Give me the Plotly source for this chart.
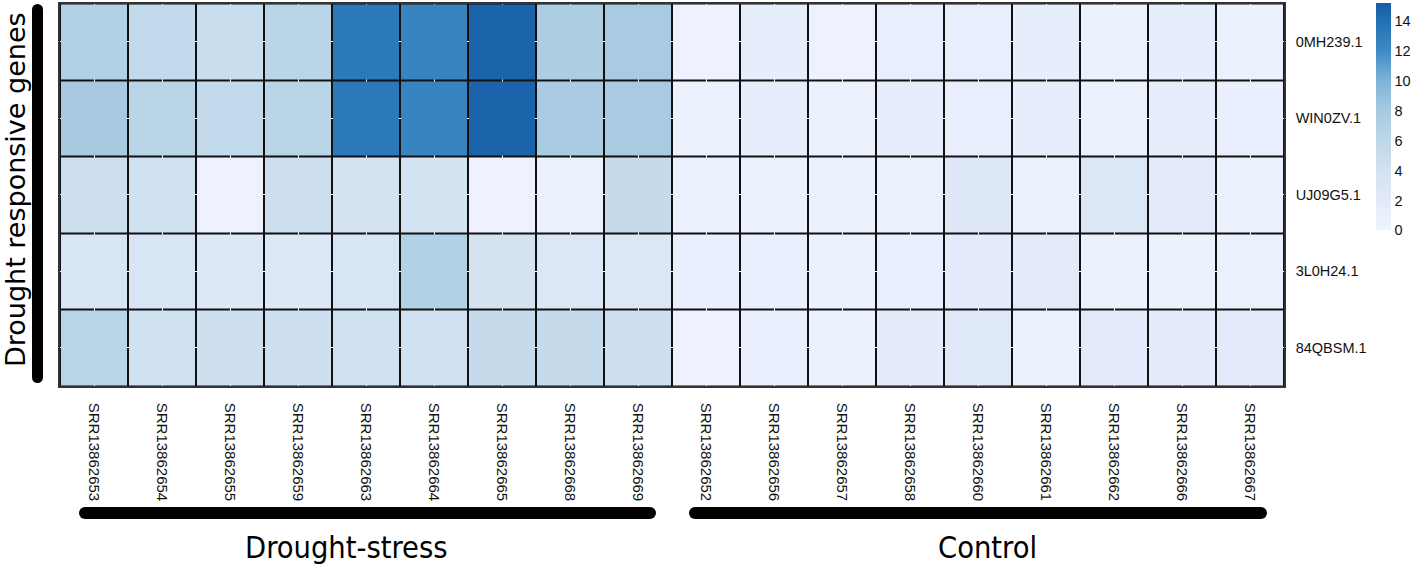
import plotly.graph_objects as go

W, H = 1416, 570

samples = ["SRR13862653", "SRR13862654", "SRR13862655", "SRR13862659", "SRR13862663",
           "SRR13862664", "SRR13862665", "SRR13862668", "SRR13862669",
           "SRR13862652", "SRR13862656", "SRR13862657", "SRR13862658", "SRR13862660",
           "SRR13862661", "SRR13862662", "SRR13862666", "SRR13862667"]
genes = ["0MH239.1", "WIN0ZV.1", "UJ09G5.1", "3L0H24.1", "84QBSM.1"]

row_0MH239 = [7.0, 5.5, 5.0, 6.3, 13.3, 12.5, 14.8, 7.5, 7.8,
              0.3, 1.2, 0.3, 1.1, 1.1, 1.2, 0.4, 1.2, 0.5]
row_WIN0ZV = [8.0, 6.3, 5.5, 6.3, 13.3, 12.5, 14.8, 7.7, 7.8,
              0.4, 1.2, 0.4, 1.2, 1.1, 1.2, 0.5, 1.2, 1.0]
row_UJ09G5 = [4.5, 4.3, 0.3, 4.5, 3.8, 3.7, 0.3, 0.4, 5.2,
              0.4, 0.4, 0.5, 0.4, 2.5, 0.4, 2.8, 1.8, 0.4]
row_3L0H24 = [3.2, 3.3, 2.6, 2.6, 3.2, 7.0, 3.8, 2.8, 2.7,
              0.8, 0.9, 0.5, 0.8, 1.7, 1.8, 0.4, 0.4, 0.6]
row_84QBSM = [6.5, 4.3, 4.4, 4.4, 4.3, 4.3, 5.2, 5.2, 4.4,
              0.3, 0.8, 0.4, 1.7, 2.3, 0.4, 1.8, 1.7, 1.9]
z = [row_0MH239, row_WIN0ZV, row_UJ09G5, row_3L0H24, row_84QBSM]

cb_ticks = [0, 2, 4, 6, 8, 10, 12, 14]
zmin, zmax = 0, 15.2

anchor_vals = [0, 2, 4, 6, 8, 10, 12, 14, 15.2]
anchor_cols = ["#EFF3FF", "#E2EAF9", "#D2E2F1", "#BDD7E9", "#A7CAE1",
               "#7FB3D8", "#3F8AC4", "#2170B3", "#185DA6"]
colorscale = [[v / zmax, c] for v, c in zip(anchor_vals, anchor_cols)]

def px(x):
    return x / W

def py(y):
    return 1 - y / H

x0, x1 = 60, 1284
y0, y1 = 3.5, 386

fig = go.Figure(go.Heatmap(
    z=z, x=samples, y=genes,
    colorscale=colorscale, zmin=zmin, zmax=zmax,
    xgap=2, ygap=2,
    colorbar=dict(
        x=px(1376), xanchor="left", xpad=0,
        y=py(3.3), yanchor="top", ypad=0,
        len=227, lenmode="pixels",
        thickness=15, thicknessmode="pixels",
        outlinewidth=0,
        tickvals=cb_ticks, ticks="",
        tickfont=dict(family="Liberation Sans, Arial", size=14.5, color="#111"),
    ),
))

fig.update_layout(
    width=W, height=H,
    margin=dict(l=0, r=0, t=0, b=0, autoexpand=False),
    paper_bgcolor="white",
    plot_bgcolor="#111111",
    xaxis=dict(domain=[px(x0), px(x1)], tickangle=90, ticks="",
               showline=True, linecolor="#333", linewidth=1.5, mirror=True,
               ticklabelstandoff=12, automargin=False,
               tickfont=dict(family="Liberation Sans, Arial", size=15, color="#111")),
    yaxis=dict(domain=[py(y1), py(y0)], side="right", autorange="reversed", ticks="",
               showline=True, linecolor="#333", linewidth=1.5, mirror=True,
               ticklabelstandoff=7, automargin=False,
               tickfont=dict(family="Liberation Sans, Arial", size=14.5, color="#111")),
)

def pill_h(xa, xb, yc, t):
    r = t / 2
    fig.add_shape(type="rect", xref="paper", yref="paper",
                  x0=px(xa + r), x1=px(xb - r), y0=py(yc + r), y1=py(yc - r),
                  fillcolor="black", line_width=0, layer="above")
    for xc in (xa + r, xb - r):
        fig.add_shape(type="circle", xref="paper", yref="paper",
                      x0=px(xc - r), x1=px(xc + r), y0=py(yc + r), y1=py(yc - r),
                      fillcolor="black", line_width=0, layer="above")

def pill_v(xc, ya, yb, t):
    r = t / 2
    fig.add_shape(type="rect", xref="paper", yref="paper",
                  x0=px(xc - r), x1=px(xc + r), y0=py(yb - r), y1=py(ya + r),
                  fillcolor="black", line_width=0, layer="above")
    for yc in (ya + r, yb - r):
        fig.add_shape(type="circle", xref="paper", yref="paper",
                      x0=px(xc - r), x1=px(xc + r), y0=py(yc + r), y1=py(yc - r),
                      fillcolor="black", line_width=0, layer="above")

pill_v(37.5, 4, 383, 11)
pill_h(79, 656, 513, 12)
pill_h(689, 1267, 513, 12)

fig.add_annotation(text="Drought responsive genes", xref="paper", yref="paper",
                   x=px(16), y=py(190), xanchor="center", yanchor="middle",
                   textangle=-90, showarrow=False,
                   font=dict(family="DejaVu Sans", size=27, color="black"))
fig.add_annotation(text="Drought-stress", xref="paper", yref="paper",
                   x=px(346), y=py(547), xanchor="center", yanchor="middle",
                   showarrow=False,
                   font=dict(family="DejaVu Sans Condensed, DejaVu Sans", size=30.5, color="black"))
fig.add_annotation(text="Control", xref="paper", yref="paper",
                   x=px(987), y=py(547), xanchor="center", yanchor="middle",
                   showarrow=False,
                   font=dict(family="DejaVu Sans Condensed, DejaVu Sans", size=30.5, color="black"))

fig.write_html("out.html",
               config={"displayModeBar": False},
               post_script="document.body.style.margin='0';document.body.style.overflow='hidden';")
